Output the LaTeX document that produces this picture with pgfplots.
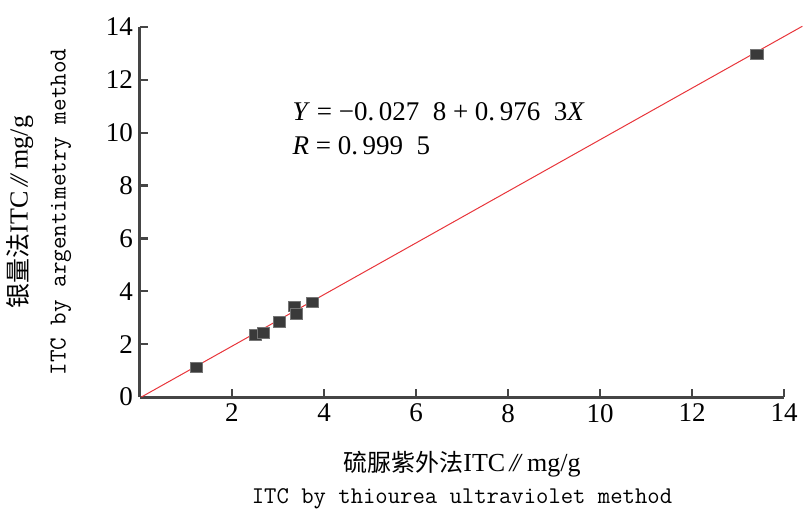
\documentclass[border=0pt]{standalone}
\usepackage{fontspec}
\setmainfont{Liberation Serif}
\newfontfamily\cjk{Noto Sans CJK SC}
\usepackage{pgfplots}
\pgfplotsset{compat=1.18}

\definecolor{axgray}{HTML}{454545}
\definecolor{mkgray}{HTML}{3A3A3A}
\definecolor{fitred}{HTML}{E8353B}

\newcommand{\dbar}{\textit{/\kern-0.12em/}}

\begin{document}
\begin{tikzpicture}
\useasboundingbox (-70pt,-57pt) rectangle (331.5pt,198.5pt);
\begin{axis}[
  at={(0,0)}, anchor=south west,
  scale only axis,
  width=322pt, height=185pt,
  xmin=0, xmax=14, ymin=0, ymax=14,
  xtick={2,4,...,14},
  ytick={0,2,...,14},
  axis lines=left,
  axis line style={-, line width=1.5pt, color=axgray},
  tick style={line width=1.2pt, color=axgray},
  tick align=inside,
  major tick length=4pt,
  /pgf/number format/assume math mode=true,
  ticklabel style={font=\fontsize{13.5}{15}\selectfont, text=black},
  clip=false,
  xlabel={{\cjk\fontsize{12}{14}\selectfont 硫脲紫外法}ITC\,\dbar\,mg/g\\[1pt]
          {\ttfamily\fontsize{12}{14}\selectfont ITC by thiourea ultraviolet method}},
  xlabel style={at={(axis description cs:0.5,-0.145)}, anchor=north,
    align=center, inner sep=0pt, font=\fontsize{13}{15}\selectfont},
  ylabel={{\cjk\fontsize{12.5}{14}\selectfont 银量法}ITC\,\dbar\,mg/g\\[4pt]
          {\ttfamily\fontsize{12.2}{14}\selectfont ITC by argentimetry method}},
  ylabel style={at={(axis description cs:-0.106,0.5)}, anchor=south,
    align=center, inner sep=0pt, font=\fontsize{13}{15}\selectfont},
]

% measured points
\addplot[only marks, mark=square*, mark size=3.1pt,
  mark options={fill=mkgray, draw=mkgray!70, line width=0.3pt, yscale=0.85}]
coordinates {
  (1.23,1.13)
  (2.51,2.36)
  (2.68,2.43)
  (3.03,2.85)
  (3.35,3.44)
  (3.40,3.14)
  (3.74,3.58)
  (13.41,12.97)
};

% fitted line Y = -0.0278 + 0.9763X
\addplot[fitred, line width=0.5pt] coordinates {(0.03,0.0) (14.4,14.03)};

\node[anchor=west, inner sep=0pt, font=\fontsize{13.5}{15}\selectfont]
  at (axis cs:3.31,10.78) {\textit{Y} = \textminus0.\,027\enspace8 + 0.\,976\enspace3\textit{X}};
\node[anchor=west, inner sep=0pt, font=\fontsize{13.5}{15}\selectfont]
  at (axis cs:3.31,9.50) {\textit{R} = 0.\,999\enspace5};

\end{axis}
\end{tikzpicture}
\end{document}
